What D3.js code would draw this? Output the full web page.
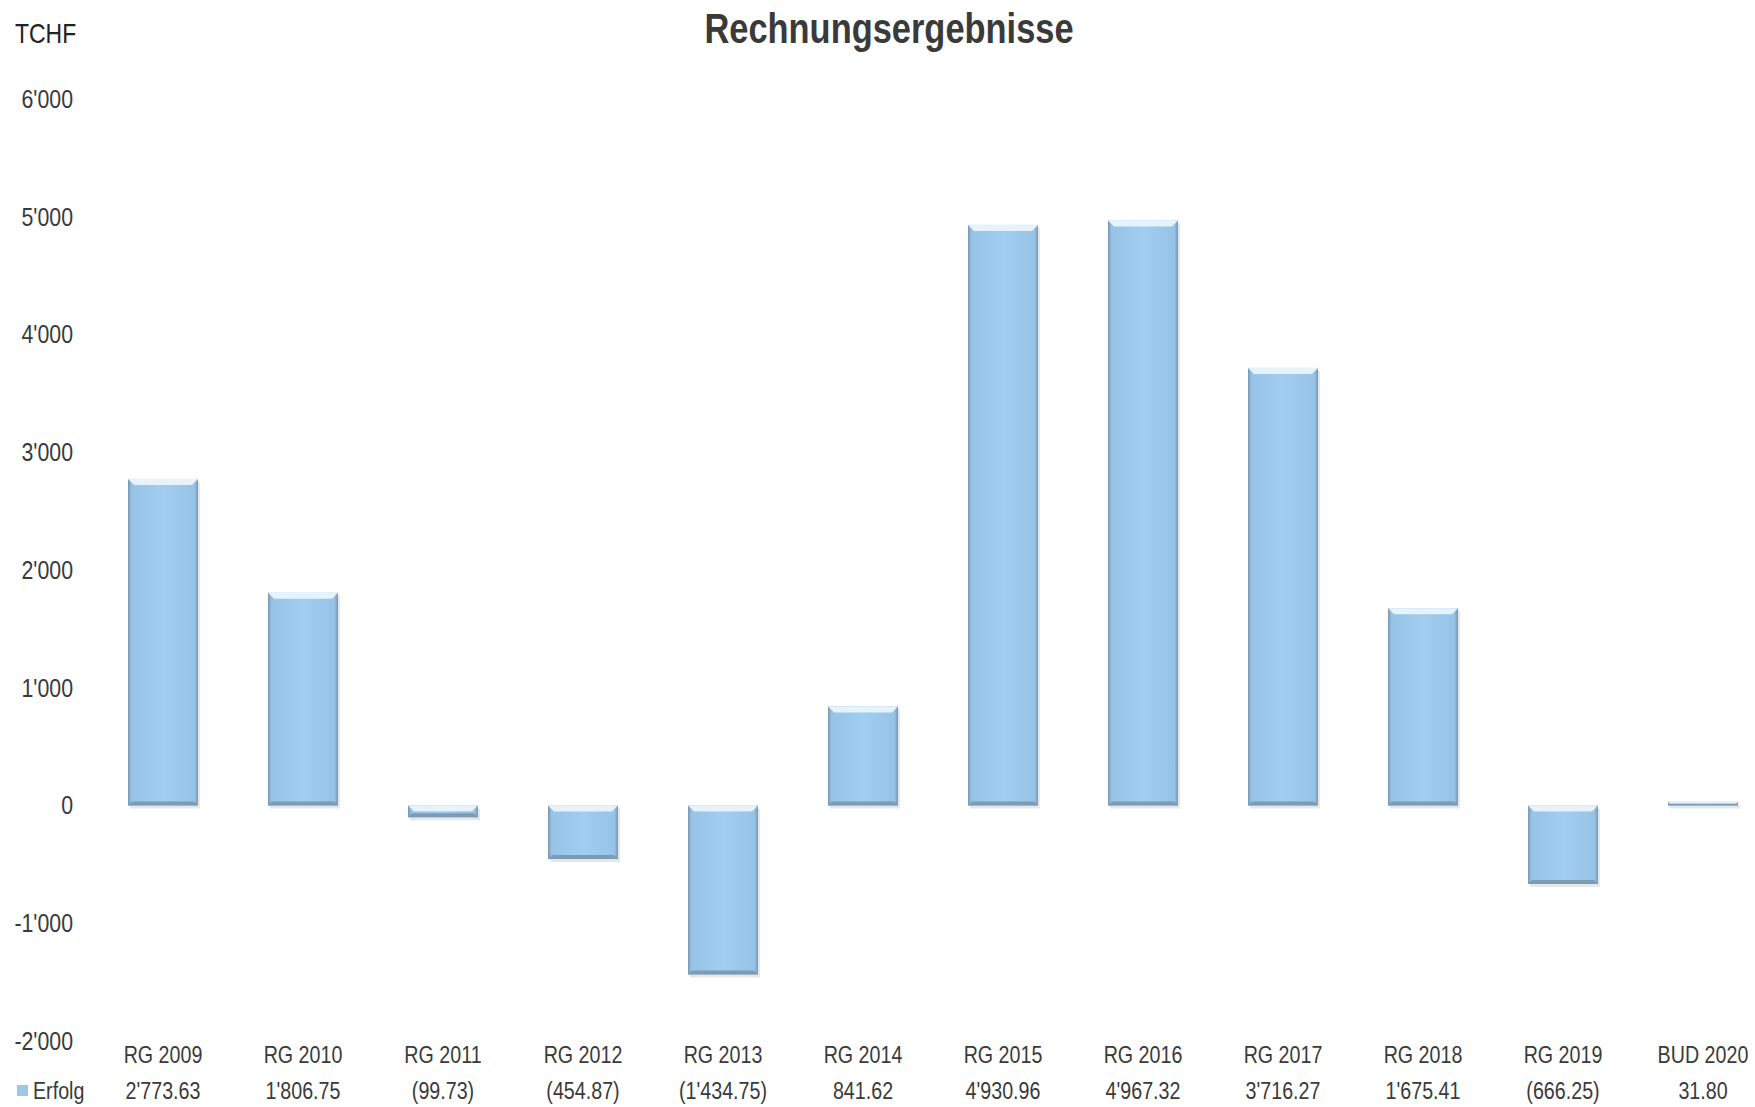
<!DOCTYPE html>
<html>
<head>
<meta charset="utf-8">
<script src="https://cdn.jsdelivr.net/npm/d3@7"></script>
<style>
  body { margin: 0; background: #fff; }
  text { font-family: "Liberation Sans Narrow", "Liberation Sans", Arial, sans-serif; fill: #3a3a3a; }
</style>
</head>
<body>
<div id="chart"></div>
<script>
// data
var categories = ["RG  2009", "RG  2010", "RG  2011", "RG  2012", "RG  2013", "RG  2014",
                  "RG  2015", "RG  2016", "RG  2017", "RG 2018", "RG 2019", "BUD 2020"];
var values = [2773.63, 1806.75, -99.73, -454.87, -1434.75, 841.62,
              4930.96, 4967.32, 3716.27, 1675.41, -666.25, 31.80];
var valueLabels = ["2'773.63", "1'806.75", "(99.73)", "(454.87)", "(1'434.75)", "841.62",
                   "4'930.96", "4'967.32", "3'716.27", "1'675.41", "(666.25)", "31.80"];
var yTicks = [-2000, -1000, 0, 1000, 2000, 3000, 4000, 5000, 6000];
var tickLabels = ["-2'000", "-1'000", "0", "1'000", "2'000", "3'000", "4'000", "5'000", "6'000"];
var seriesName = "Erfolg";

var width = 1755, height = 1107;
var narrow = 0.82;   // no narrow font installed, squeeze text instead

var svg = d3.select("#chart").append("svg")
    .attr("width", width)
    .attr("height", height);

// place a text squeezed horizontally around its anchor
function narrowText(g, px, py, str, size, anchor) {
    return g.append("text")
        .attr("transform", "translate(" + px + "," + py + ") scale(" + narrow + ",1)")
        .attr("text-anchor", anchor || "start")
        .attr("font-size", size)
        .text(str);
}

// gradient for the bevelled bars
var defs = svg.append("defs");
var grad = defs.append("linearGradient").attr("id", "barGrad")
    .attr("x1", "0%").attr("x2", "100%").attr("y1", "0%").attr("y2", "0%");
grad.append("stop").attr("offset", "0%").attr("stop-color", "#7897b0");
grad.append("stop").attr("offset", "5%").attr("stop-color", "#96c3e6");
grad.append("stop").attr("offset", "50%").attr("stop-color", "#a0cdf0");
grad.append("stop").attr("offset", "95%").attr("stop-color", "#96c3e6");
grad.append("stop").attr("offset", "100%").attr("stop-color", "#7897b0");

var x = d3.scaleBand()
    .domain(categories)
    .range([93, 1773])
    .paddingInner(0);

var barW = 70;

var y = d3.scaleLinear()
    .domain([-2000, 6000])
    .range([1041, 99]);

// title
narrowText(svg, 889, 43, "Rechnungsergebnisse", 42, "middle")
    .attr("font-weight", "bold");

narrowText(svg, 15, 43, "TCHF", 28).style("fill", "#222");

// y axis (labels only)
var yAxis = d3.axisLeft(y)
    .tickValues(yTicks)
    .tickSize(0)
    .tickPadding(0)
    .tickFormat(function(d, i) { return tickLabels[i]; });

var yG = svg.append("g")
    .attr("transform", "translate(73,0)")
    .call(yAxis);
yG.select(".domain").remove();
yG.selectAll("text")
    .attr("font-size", 26)
    .attr("font-family", null)
    .attr("transform", "scale(" + narrow + ",1)")
    .style("fill", "#3a3a3a");

// bars
var bars = svg.append("g").selectAll("g.bar")
    .data(values)
    .enter().append("g")
    .attr("class", "bar");

function barX(i) { return x(categories[i]) + (x.bandwidth() - barW) / 2; }

// soft shadow
bars.append("rect")
    .attr("x", function(d, i) { return barX(i) + 2; })
    .attr("y", function(d) { return Math.min(y(d), y(0)) + 3; })
    .attr("width", barW)
    .attr("height", function(d) { return Math.abs(y(d) - y(0)); })
    .attr("fill", "#d4d8dc")
    .attr("opacity", 0.6);

bars.append("rect")
    .attr("x", function(d, i) { return barX(i); })
    .attr("y", function(d) { return Math.min(y(d), y(0)); })
    .attr("width", barW)
    .attr("height", function(d) { return Math.max(Math.abs(y(d) - y(0)), 1); })
    .attr("fill", "url(#barGrad)");

// light bevel on the top edge, darker bevel on the bottom edge
bars.append("path")
    .attr("d", function(d, i) {
        var x0 = barX(i);
        var t = Math.min(y(d), y(0));
        var h = Math.abs(y(d) - y(0));
        var b = Math.min(6, h / 2);
        return "M" + x0 + "," + t + "L" + (x0 + barW) + "," + t +
               "L" + (x0 + barW - b) + "," + (t + b) + "L" + (x0 + b) + "," + (t + b) + "Z";
    })
    .attr("fill", "#e6f3fc");

bars.append("path")
    .attr("d", function(d, i) {
        var x0 = barX(i);
        var bt = Math.max(y(d), y(0));
        var h = Math.abs(y(d) - y(0));
        var b = Math.min(4, h / 2);
        return "M" + x0 + "," + bt + "L" + (x0 + barW) + "," + bt +
               "L" + (x0 + barW - b) + "," + (bt - b) + "L" + (x0 + b) + "," + (bt - b) + "Z";
    })
    .attr("fill", "#7d9cb4");

// category labels and value row
var labelG = svg.append("g");
categories.forEach(function(c, i) {
    var cx = x(c) + x.bandwidth() / 2;
    narrowText(labelG, cx, 1063, c, 24, "middle");
    narrowText(labelG, cx, 1099, valueLabels[i], 24, "middle");
});

// legend
svg.append("rect")
    .attr("x", 17).attr("y", 1085)
    .attr("width", 11).attr("height", 11)
    .attr("fill", "#9cc7e6");
narrowText(svg, 33, 1099, seriesName, 24);
</script>
</body>
</html>
